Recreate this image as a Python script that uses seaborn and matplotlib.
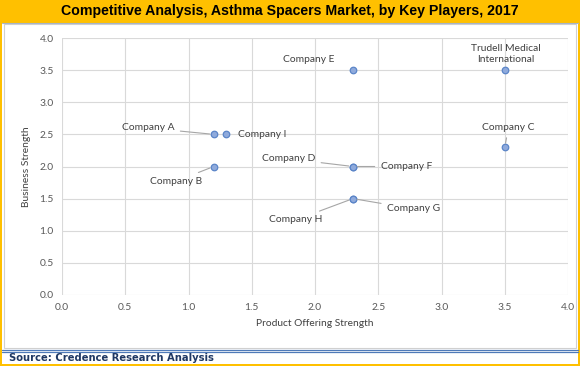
import pandas as pd
import matplotlib.pyplot as plt
import seaborn as sns
from matplotlib.patches import Rectangle
from matplotlib.lines import Line2D

# Dados
companies = ["Company A", "Company I", "Company B", "Company D", "Company F",
             "Company E", "Trudell Medical\nInternational", "Company C",
             "Company H", "Company G"]
product_strength = [1.2, 1.3, 1.2, 2.3, 2.3, 2.3, 3.5, 3.5, 2.3, 2.3]
business_strength = [2.5, 2.5, 2.0, 2.0, 2.0, 3.5, 3.5, 2.3, 1.5, 1.5]

# posição dos rótulos (coordenadas de dados) e se tem linha guia
label_x = [0.68, 1.39, 0.90, 1.79, 2.52, 1.95, 3.51, 3.53, 1.85, 2.57]
label_y = [2.60, 2.50, 1.77, 2.12, 2.00, 3.66, 3.75, 2.61, 1.17, 1.34]
label_ha = ["center", "left", "center", "center", "left", "center",
            "center", "center", "center", "left"]
leader = [True, False, True, True, True, False, False, True, True, True]

df = pd.DataFrame({"empresa": companies, "produto": product_strength,
                   "negocio": business_strength})

sns.set_theme(style="white")
plt.rcParams['font.family'] = ['Lato', 'DejaVu Sans']

W, H = 580, 366
fig = plt.figure(figsize=(W / 100, H / 100), dpi=100)
fig.patch.set_facecolor('#FFC000')

def fx(px):
    return px / W

def fy(py):
    return 1 - py / H

# painel branco e moldura
fig.add_artist(Rectangle((fx(2), fy(364)), fx(576), (364 - 23) / H,
                         facecolor='white', edgecolor='none', zorder=0))
fig.add_artist(Rectangle((fx(3.5), fy(348)), fx(572), (348 - 23.5) / H,
                         facecolor='none', edgecolor='#D0D0D0', lw=0.8, zorder=1))
fig.add_artist(Line2D([fx(2), fx(578)], [fy(22.5), fy(22.5)], color='#A6B4C8', lw=0.8))
for yy in (349.5, 352):
    fig.add_artist(Line2D([fx(2), fx(578)], [fy(yy), fy(yy)], color='#4F7AB8', lw=0.9))

fig.text(0.5, fy(11), "Competitive Analysis, Asthma Spacers Market, by Key Players, 2017",
         ha='center', va='center', fontsize=10.2, fontweight='bold',
         family=['Liberation Sans', 'DejaVu Sans'], color='black')
fig.text(fx(9), fy(358), "Source: Credence Research Analysis", ha='left', va='center',
         fontsize=7.2, fontweight='bold', family=['DejaVu Sans'], color='#1F3864')

ax = fig.add_axes([fx(62), fy(295), (568 - 62) / W, (295 - 38) / H])
ax.set_facecolor('none')

sns.scatterplot(data=df, x="produto", y="negocio", ax=ax, s=22,
                color='#8FAADC', edgecolor='#5B85C8', linewidth=0.9, zorder=3)

for i, name in enumerate(companies):
    arrow = dict(arrowstyle='-', color='#A6A6A6', lw=0.8, shrinkA=2, shrinkB=3) if leader[i] else None
    ax.annotate(name, xy=(product_strength[i], business_strength[i]),
                xytext=(label_x[i], label_y[i]), ha=label_ha[i], va='center',
                fontsize=7.4, color='#404040', arrowprops=arrow,
                linespacing=1.3, zorder=4)

ax.set_xlim(0, 4)
ax.set_ylim(0, 4)
ax.set_xticks([0, 0.5, 1, 1.5, 2, 2.5, 3, 3.5, 4])
ax.set_yticks([0, 0.5, 1, 1.5, 2, 2.5, 3, 3.5, 4])
ax.set_xticklabels([f"{v:.1f}" for v in ax.get_xticks()])
ax.set_yticklabels([f"{v:.1f}" for v in ax.get_yticks()])
ax.grid(True, color='#D9D9D9', lw=0.8)
ax.set_axisbelow(True)
for s in ax.spines.values():
    s.set_visible(False)
ax.tick_params(axis='both', length=0, labelsize=7.4, labelcolor='#595959', pad=6)
ax.set_xlabel("Product Offering Strength", fontsize=7.4, color='#404040', labelpad=5)
ax.set_ylabel("Business Strength", fontsize=7.4, color='#404040', labelpad=6)

fig.savefig("out.png", dpi=100, facecolor=fig.get_facecolor())
